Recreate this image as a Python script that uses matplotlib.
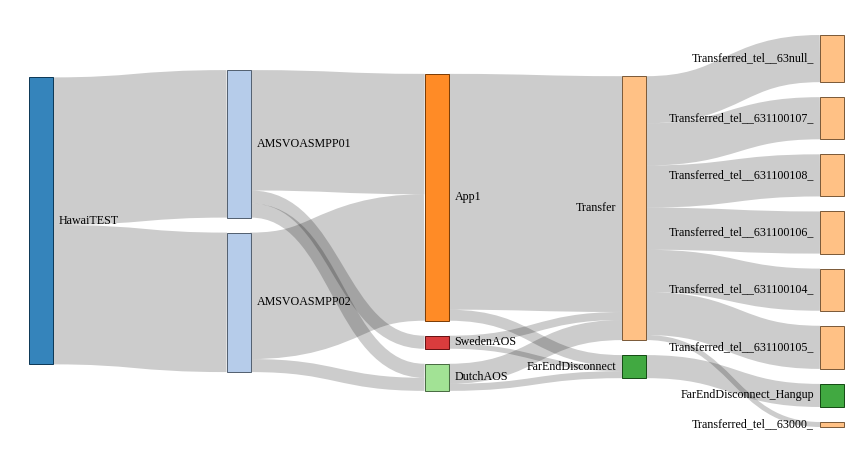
import matplotlib
matplotlib.use("Agg")
import matplotlib.pyplot as plt
import matplotlib.patches as patches
from matplotlib.path import Path
from matplotlib.colors import to_rgb

# nodes, in order of appearance
node_names = [
    "HawaiTEST", "AMSVOASMPP01", "AMSVOASMPP02",
    "App1", "SwedenAOS", "DutchAOS",
    "Transfer", "FarEndDisconnect",
    "Transferred_tel__63null_", "Transferred_tel__631100107_",
    "Transferred_tel__631100108_", "Transferred_tel__631100106_",
    "Transferred_tel__631100104_", "Transferred_tel__631100105_",
    "FarEndDisconnect_Hangup", "Transferred_tel__63000_",
]
node_colors = [
    "#1f77b4", "#aec7e8", "#aec7e8",
    "#ff7f0e", "#d62728", "#98df8a",
    "#ffbb78", "#2ca02c",
    "#ffbb78", "#ffbb78", "#ffbb78", "#ffbb78", "#ffbb78", "#ffbb78",
    "#2ca02c", "#ffbb78",
]

# links
link_source = ["HawaiTEST", "HawaiTEST",
               "AMSVOASMPP01", "AMSVOASMPP01", "AMSVOASMPP01",
               "AMSVOASMPP02", "AMSVOASMPP02",
               "App1", "App1", "SwedenAOS", "SwedenAOS", "DutchAOS", "DutchAOS",
               "Transfer", "Transfer", "Transfer", "Transfer", "Transfer",
               "Transfer", "Transfer", "FarEndDisconnect"]
link_target = ["AMSVOASMPP01", "AMSVOASMPP02",
               "App1", "SwedenAOS", "DutchAOS",
               "App1", "DutchAOS",
               "Transfer", "FarEndDisconnect", "Transfer", "FarEndDisconnect",
               "Transfer", "FarEndDisconnect",
               "Transferred_tel__63null_", "Transferred_tel__631100107_",
               "Transferred_tel__631100108_", "Transferred_tel__631100106_",
               "Transferred_tel__631100104_", "Transferred_tel__631100105_",
               "Transferred_tel__63000_", "FarEndDisconnect_Hangup"]
link_value = [147, 139,
              120, 13, 14,
              126, 13,
              235, 11, 8, 5, 20, 7,
              47, 42, 42, 42, 42, 43, 5, 23]


def sankey_layout(names, src, tgt, val, width, height, node_width, padding, iterations=64):
    n = len(names)
    idx = {name: i for i, name in enumerate(names)}
    links = [{"s": idx[s], "t": idx[t], "v": v} for s, t, v in zip(src, tgt, val)]
    nodes = [{"src": [], "tgt": []} for _ in range(n)]
    for l in links:
        nodes[l["s"]]["src"].append(l)
        nodes[l["t"]]["tgt"].append(l)
    for nd in nodes:
        nd["v"] = max(sum(l["v"] for l in nd["src"]), sum(l["v"] for l in nd["tgt"]))

    # columns
    remaining = list(range(n))
    x = 0
    while remaining:
        nxt = []
        for i in remaining:
            nodes[i]["x"] = x
            for l in nodes[i]["src"]:
                if l["t"] not in nxt:
                    nxt.append(l["t"])
        remaining = nxt
        x += 1
    for nd in nodes:
        if not nd["src"]:
            nd["x"] = x - 1
    kx = (width - node_width) / (x - 1)
    cols = [[nd for nd in nodes if nd["x"] == c] for c in range(x)]
    for nd in nodes:
        nd["x"] *= kx

    ky = min((height - (len(col) - 1) * padding) / sum(nd["v"] for nd in col) for col in cols)
    for col in cols:
        for i, nd in enumerate(col):
            nd["y"] = i
            nd["dy"] = nd["v"] * ky
    for l in links:
        l["dy"] = l["v"] * ky

    def center(nd):
        return nd["y"] + nd["dy"] / 2

    def resolve():
        # overlapping nodes merge into a block placed at their value-weighted wanted position
        for col in cols:
            blocks = []
            for nd in col:
                blocks.append({"nodes": [nd], "offs": [0.0], "span": nd["dy"],
                               "sum": nd["y"] * nd["v"], "w": nd["v"]})
                while len(blocks) > 1:
                    a, b = blocks[-2], blocks[-1]
                    if a["sum"] / a["w"] + a["span"] + padding <= b["sum"] / b["w"]:
                        break
                    shift = a["span"] + padding
                    a["nodes"] += b["nodes"]
                    a["offs"] += [o + shift for o in b["offs"]]
                    a["sum"] += b["sum"] - b["w"] * shift
                    a["w"] += b["w"]
                    a["span"] = shift + b["span"]
                    blocks.pop()
            for b in blocks:
                top = b["sum"] / b["w"]
                for nd, o in zip(b["nodes"], b["offs"]):
                    nd["y"] = top + o
            # keep inside the area
            y0 = 0
            for nd in col:
                if y0 > nd["y"]:
                    nd["y"] = y0
                y0 = nd["y"] + nd["dy"] + padding
            d = y0 - padding - height
            if d > 0:
                col[-1]["y"] -= d
                y0 = col[-1]["y"]
                for nd in reversed(col[:-1]):
                    d = nd["y"] + nd["dy"] + padding - y0
                    if d > 0:
                        nd["y"] -= d
                    y0 = nd["y"]

    resolve()
    alpha = 1.0
    for _ in range(iterations):
        alpha *= 0.99
        for col in reversed(cols):
            for nd in col:
                if nd["src"]:
                    y = sum(center(nodes[l["t"]]) * l["v"] for l in nd["src"]) / sum(l["v"] for l in nd["src"])
                    nd["y"] += (y - center(nd)) * alpha
        resolve()
        for col in cols:
            for nd in col:
                if nd["tgt"]:
                    y = sum(center(nodes[l["s"]]) * l["v"] for l in nd["tgt"]) / sum(l["v"] for l in nd["tgt"])
                    nd["y"] += (y - center(nd)) * alpha
        resolve()

    # link offsets inside each node
    for nd in nodes:
        nd["src"].sort(key=lambda l: nodes[l["t"]]["y"])
        nd["tgt"].sort(key=lambda l: nodes[l["s"]]["y"])
        sy = 0
        for l in nd["src"]:
            l["sy"] = sy
            sy += l["dy"]
        ty = 0
        for l in nd["tgt"]:
            l["ty"] = ty
            ty += l["dy"]
    return nodes, links


W, H = 861, 462
left, top = 29, 35
width, height = 815, 392
node_width = 24

nodes, links = sankey_layout(node_names, link_source, link_target, link_value,
                             width, height, node_width, padding=15)

fig = plt.figure(figsize=(W / 100, H / 100), dpi=100)
ax = fig.add_axes([0, 0, 1, 1])
ax.set_xlim(0, W)
ax.set_ylim(H, 0)
ax.axis("off")

px = 72 / 100  # points per pixel

# links
for l in links:
    s, t = nodes[l["s"]], nodes[l["t"]]
    x0 = left + s["x"] + node_width
    x1 = left + t["x"]
    xm = (x0 + x1) / 2
    y0 = top + s["y"] + l["sy"] + l["dy"] / 2
    y1 = top + t["y"] + l["ty"] + l["dy"] / 2
    path = Path([(x0, y0), (xm, y0), (xm, y1), (x1, y1)],
                [Path.MOVETO, Path.CURVE4, Path.CURVE4, Path.CURVE4])
    ax.add_patch(patches.PathPatch(path, facecolor="none", edgecolor=(0, 0, 0, 0.2),
                                   lw=max(1, l["dy"]) * px, capstyle="butt"))

# nodes
for name, color, nd in zip(node_names, node_colors, nodes):
    r, g, b = to_rgb(color)
    x = left + nd["x"]
    y = top + nd["y"]
    ax.add_patch(patches.Rectangle((x, y), node_width, nd["dy"],
                                   facecolor=(r, g, b, 0.9),
                                   edgecolor=(r * 0.49, g * 0.49, b * 0.49),
                                   lw=1 * px))
    if nd["x"] < width / 2:
        ax.text(x + node_width + 6, y + nd["dy"] / 2, name, ha="left", va="center",
                fontsize=12 * px, family="Liberation Serif")
    else:
        ax.text(x - 6, y + nd["dy"] / 2, name, ha="right", va="center",
                fontsize=12 * px, family="Liberation Serif")

fig.savefig("out.png", dpi=100)
